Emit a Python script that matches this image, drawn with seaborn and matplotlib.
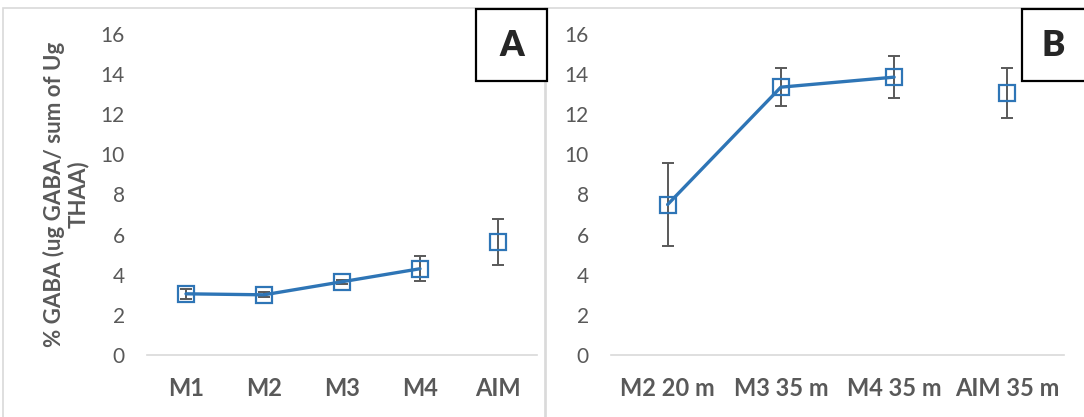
import numpy as np
import matplotlib
matplotlib.use("Agg")
import matplotlib.pyplot as plt
import seaborn as sns
from matplotlib.patches import Rectangle

# panel A data
cats_a = ["M1", "M2", "M3", "M4", "AIM"]
vals_a = [3.05, 3.0, 3.65, 4.3, 5.65]
err_a = [0.25, 0.12, 0.1, 0.62, 1.15]

# panel B data
cats_b = ["M2 20 m", "M3 35 m", "M4 35 m", "AIM 35 m"]
vals_b = [7.5, 13.35, 13.85, 13.05]
err_b = [2.05, 0.95, 1.05, 1.25]

ylabel = "% GABA (ug GABA/ sum of Ug\nTHAA)"

sns.set_style("white")
plt.rcParams["font.family"] = ["Lato", "DejaVu Sans"]

BLUE = "#2E75B6"
GREY = "#595959"
W, H = 1084, 417

fig = plt.figure(figsize=(W / 100, H / 100), dpi=100)


def fx(px):
    return px / W


def fy(py):
    return 1 - py / H


def panel(ax, cats, vals, errs):
    pos = np.arange(len(cats))
    # error bars first, markers sit on top
    ax.errorbar(pos, vals, yerr=errs, fmt="none", ecolor=GREY, elinewidth=1.4,
                capsize=4, capthick=1.4, zorder=2)
    # connected series (last category stands alone)
    sns.lineplot(x=pos[:-1], y=vals[:-1], ax=ax, color=BLUE, linewidth=2.4,
                 marker="s", markersize=11.5, markerfacecolor="none",
                 markeredgecolor=BLUE, markeredgewidth=1.6, zorder=3)
    ax.plot(pos[-1:], vals[-1:], linestyle="none", marker="s", markersize=11.5,
            markerfacecolor="none", markeredgecolor=BLUE, markeredgewidth=1.6, zorder=3)
    ax.set_xlim(-0.5, len(cats) - 0.5)
    ax.set_ylim(0, 16)
    ax.set_yticks(range(0, 17, 2))
    ax.set_xticks(pos)
    ax.set_xticklabels(cats, fontweight="bold", fontsize=17, color=GREY)
    ax.tick_params(axis="y", labelsize=15, labelcolor=GREY, length=0, pad=16)
    ax.tick_params(axis="x", length=0, pad=16)
    for s in ["top", "right", "left"]:
        ax.spines[s].set_visible(False)
    ax.spines["bottom"].set_color("#D9D9D9")
    ax.spines["bottom"].set_linewidth(1.2)
    ax.set_facecolor("none")


ax_a = fig.add_axes([fx(147), fy(355), fx(537 - 147), (355 - 34) / H])
ax_b = fig.add_axes([fx(611), fy(355), fx(1064 - 611), (355 - 34) / H])

panel(ax_a, cats_a, vals_a, err_a)
panel(ax_b, cats_b, vals_b, err_b)

ax_a.set_ylabel(ylabel, fontsize=16, fontweight="bold", color=GREY, labelpad=8,
                linespacing=1.15)

# light grey panel frames
for x0, x1 in [(3, 546), (545, 1090)]:
    fig.add_artist(Rectangle((fx(x0), fy(430)), fx(x1 - x0), (430 - 8) / H,
                             transform=fig.transFigure, fill=False,
                             edgecolor="#D9D9D9", linewidth=1.2, zorder=0))

# panel letter boxes
for x0, x1, letter in [(476, 547, "A"), (1022, 1090, "B")]:
    fig.add_artist(Rectangle((fx(x0), fy(81)), fx(x1 - x0), (81 - 9) / H,
                             transform=fig.transFigure, facecolor="white",
                             edgecolor="black", linewidth=1.6, zorder=5))
    fig.text(fx((x0 + min(x1, 1084)) / 2), fy(45), letter, fontsize=25,
             fontweight="heavy", ha="center", va="center", zorder=6)

fig.savefig("out.png", dpi=100)
